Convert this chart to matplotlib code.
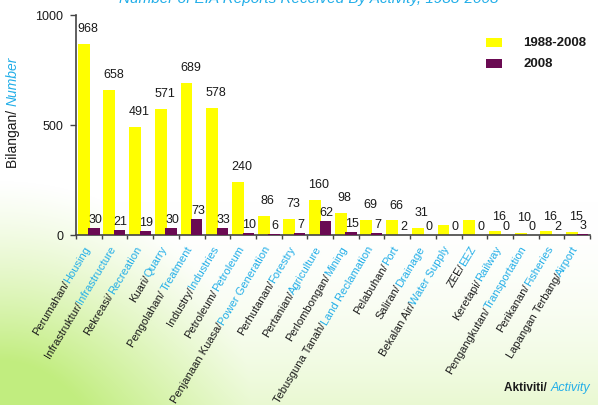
import numpy as np
import matplotlib
matplotlib.use('Agg')
import matplotlib.pyplot as plt
from matplotlib.patches import Rectangle
from matplotlib.transforms import offset_copy, blended_transform_factory

plt.rcParams['font.family'] = ['Liberation Sans', 'DejaVu Sans']

# ---------------- data ----------------
categories_ms = ["Perumahan/", "Infrastruktur/", "Rekreasi/", "Kuari/", "Pengolahan/ ",
                 "Industry/", "Petroleum/", "Penjanaan Kuasa/", "Perhutanan/", "Pertanian/",
                 "Perlombongan/", "Tebusguna Tanah/", "Pelabuhan/", "Saliran/", "Bekalan Air/",
                 "ZEE/", "Keretapi/", "Pengangkutan/", "Perikanan/", "Lapangan Terbang/"]
categories_en = ["Housing", "Infrastructure", "Recreation", "Quarry", "Treatment",
                 "Industries", "Petroleum", "Power Generation", "Forestry", "Agriculture",
                 "Mining", "Land Reclamation", "Port", "Drainage", "Water Supply",
                 "EEZ", "Railway", "Transportation", "Fisheries", "Airport"]
total_1988_2008 = [868, 658, 491, 571, 689, 578, 240, 86, 73, 160,
                   98, 69, 66, 31, 45, 66, 16, 10, 16, 15]
total_labels = ["968", "658", "491", "571", "689", "578", "240", "86", "73", "160",
                "98", "69", "66", "31", "", "", "16", "10", "16", "15"]
year_2008 = [30, 21, 19, 30, 73, 33, 10, 6, 7, 62,
             15, 7, 2, 0, 0, 0, 0, 0, 2, 3]
yticks = [0, 500, 1000]
series_names = ["1988-2008", "2008"]

YELLOW = "#ffff00"
PURPLE = "#6a0a52"
CYAN = "#22aee8"
DARK = "#1a1a1a"
series_colors = [YELLOW, PURPLE]

W, H = 598, 406
fig = plt.figure(figsize=(W / 100, H / 100), dpi=100)
fig.patch.set_facecolor("white")

# ---------------- background gradient ----------------
yy, xx = np.mgrid[0:H, 0:W]
u = xx / W
v = (H - 1 - yy) / H
w1 = np.clip(1 - np.sqrt((u / 0.42) ** 2 + (v / 0.55) ** 2), 0, 1) ** 1.1
w2 = np.clip(1 - v / 0.5, 0, 1) ** 2 * 0.35
w = np.clip(w1 + w2, 0, 1)
G = np.array([0.76, 0.93, 0.50])
img = (1 - w[..., None]) * np.array([1.0, 1.0, 1.0]) + w[..., None] * G
fig.figimage(img, xo=0, yo=0, origin="upper", zorder=-10)

# ---------------- axes ----------------
ax = fig.add_axes([76 / W, 1 - 236 / H, (590 - 76) / W, (236 - 16) / H])
ax.set_facecolor("none")
n = len(total_1988_2008)
x = np.arange(n)
ax.bar(x - 0.2, total_1988_2008, width=0.46, color=YELLOW, zorder=2)
ax.bar(x + 0.2, year_2008, width=0.44, color=PURPLE, zorder=3)
ax.set_xlim(-0.5, n - 0.5)
ax.set_ylim(0, 1000)
ax.set_yticks(yticks)
ax.set_yticklabels([str(t) for t in yticks], fontsize=9, color=DARK)
ax.set_xticks(np.arange(n + 1) - 0.5)
ax.set_xticklabels([])
ax.tick_params(axis="x", length=3, width=1, color="#444444", direction="out")
ax.tick_params(axis="y", length=4, width=1, color="#444444", direction="out", pad=5)
for s in ["top", "right"]:
    ax.spines[s].set_visible(False)
for s in ["left", "bottom"]:
    ax.spines[s].set_color("#444444")
    ax.spines[s].set_linewidth(1.2)

# value labels
for i in range(n):
    if total_labels[i]:
        ax.annotate(total_labels[i], (x[i] - 0.05, total_1988_2008[i]), xytext=(0, 11.5),
                    textcoords="offset points", ha="center", va="center", fontsize=9, color=DARK)
    ax.annotate(str(year_2008[i]), (x[i] + 0.24, year_2008[i]), xytext=(0, 6.5),
                textcoords="offset points", ha="center", va="center", fontsize=9, color=DARK)

# legend (manual, no frame)
for k, (name, col) in enumerate(zip(series_names, series_colors)):
    yc = 43 + 21 * k
    fig.patches.append(Rectangle((486 / W, 1 - (yc + 4.5) / H), 16 / W, 9 / H,
                                 transform=fig.transFigure, facecolor=col, edgecolor="none"))
    fig.text(523 / W, 1 - yc / H, name, ha="left", va="center", fontsize=9.5,
             weight="bold", color=DARK)

# category labels (two colours)
fig.canvas.draw()
renderer = fig.canvas.get_renderer()
rot = 59
th = np.deg2rad(rot)
base = blended_transform_factory(ax.transData, ax.transAxes)
lab_fs = 8
for i in range(n):
    full = categories_ms[i] + categories_en[i]
    tmp = ax.text(0, 0, full, fontsize=lab_fs)
    wf = tmp.get_window_extent(renderer).width
    tmp.remove()
    dx0, dy0 = -1.0, -11.0
    tr_end = offset_copy(base, fig=fig, x=dx0, y=dy0, units="dots")
    ax.text(i, 0, categories_en[i], transform=tr_end, rotation=rot, rotation_mode="anchor",
            ha="right", va="center", fontsize=lab_fs, color=CYAN, clip_on=False)
    tr_start = offset_copy(base, fig=fig, x=dx0 - wf * np.cos(th), y=dy0 - wf * np.sin(th),
                           units="dots")
    ax.text(i, 0, categories_ms[i], transform=tr_start, rotation=rot, rotation_mode="anchor",
            ha="left", va="center", fontsize=lab_fs, color=DARK, clip_on=False)

# y label (two colours)
t1 = fig.text(13 / W, 1 - 168 / H, "Bilangan/ ", rotation=90, ha="center", va="bottom",
              fontsize=10, color=DARK)
h1 = t1.get_window_extent(renderer).height
fig.text(13 / W, 1 - (168 - h1) / H, "Number", rotation=90, ha="center", va="bottom",
         fontsize=10, color=CYAN, style="italic")

# x label (two colours), right end at x=590 px
xl_fs = 8.5
ta = fig.text(0, 0, "Aktiviti/ ", fontsize=xl_fs, weight="bold")
tb = fig.text(0, 0, "Activity", fontsize=xl_fs + 0.5, style="italic")
wa = ta.get_window_extent(renderer).width
wb = tb.get_window_extent(renderer).width
ta.remove()
tb.remove()
x0 = 590 - wa - wb
fig.text(x0 / W, 1 - 388 / H, "Aktiviti/ ", ha="left", va="center", fontsize=xl_fs,
         color=DARK, weight="bold")
fig.text((x0 + wa) / W, 1 - 388 / H, "Activity", ha="left", va="center",
         fontsize=xl_fs + 0.5, color=CYAN, style="italic")

# title (cut off at the top in the reference)
fig.text(309 / W, 1 - 3.0 / H, "Number of EIA Reports Received By Activity, 1988-2008",
         ha="center", va="baseline", fontsize=11, color=CYAN, style="italic")

fig.savefig("out.png", dpi=100)
